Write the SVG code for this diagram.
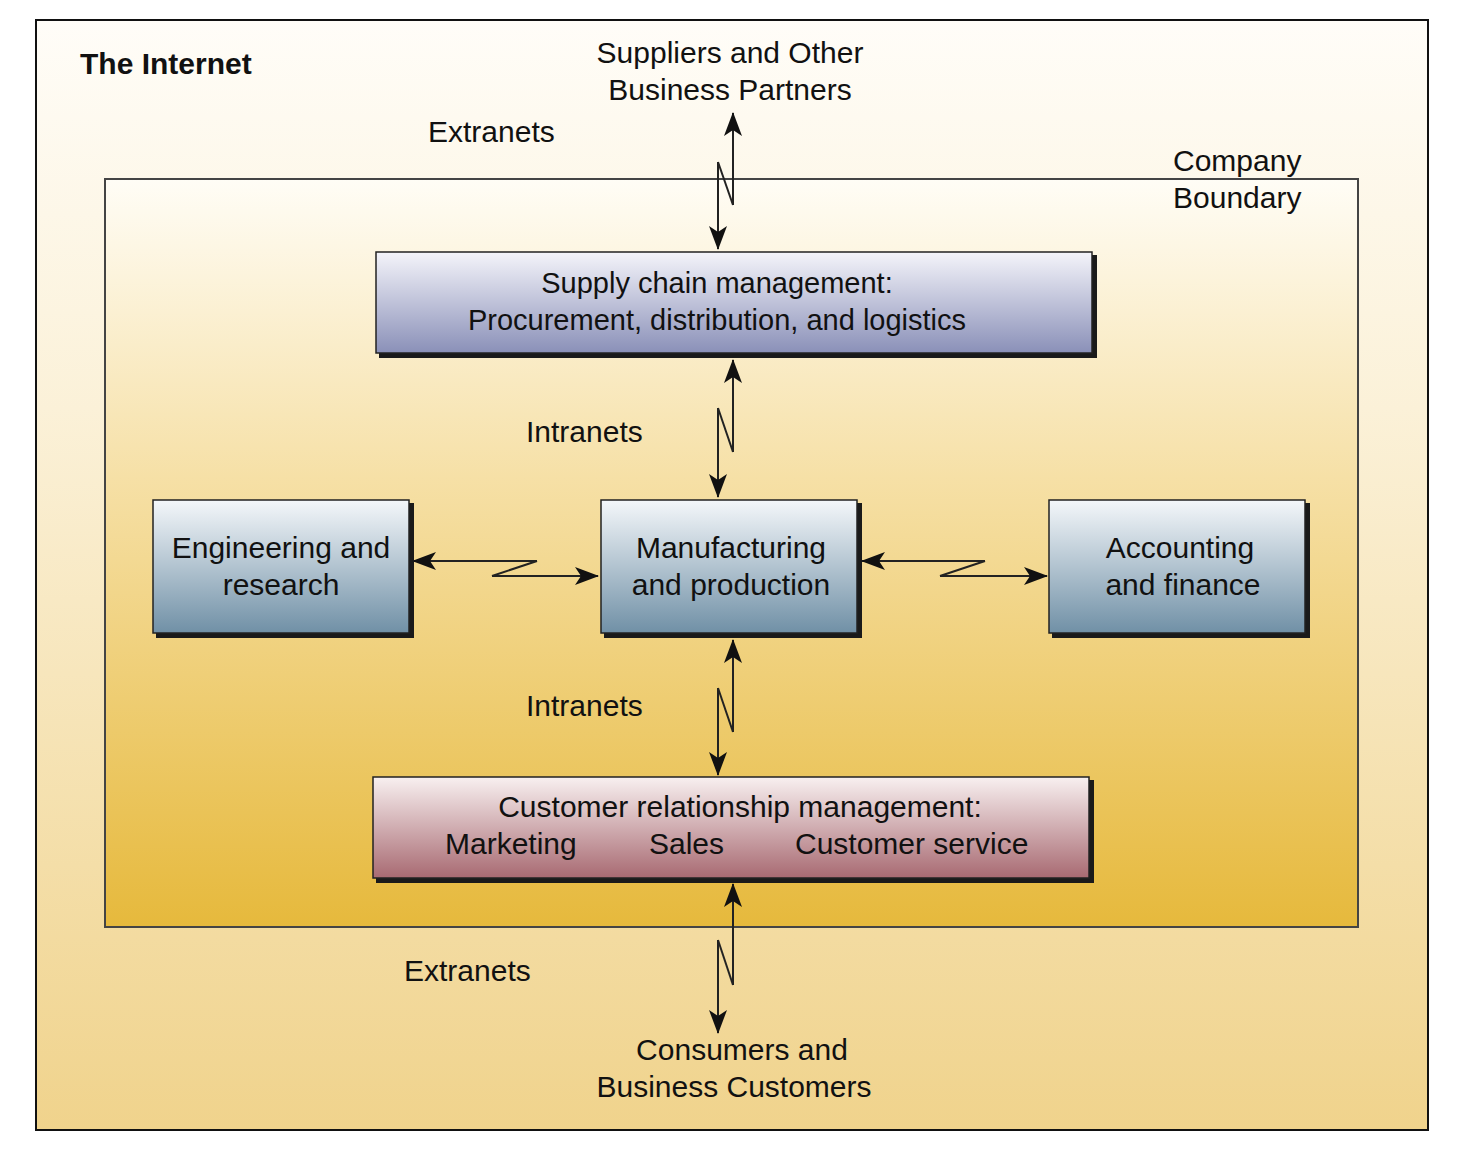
<svg xmlns="http://www.w3.org/2000/svg" width="1464" height="1154" viewBox="0 0 1464 1154">
<defs>
<linearGradient id="gOuter" x1="0" y1="0" x2="0" y2="1">
<stop offset="0" stop-color="#fffdf8"/><stop offset="0.35" stop-color="#fbf1d8"/><stop offset="1" stop-color="#f0d38c"/>
</linearGradient>
<linearGradient id="gInner" x1="0" y1="0" x2="0" y2="1">
<stop offset="0" stop-color="#fffdf6"/><stop offset="0.4" stop-color="#f6e0a6"/><stop offset="1" stop-color="#e6b93c"/>
</linearGradient>
<linearGradient id="gSupply" x1="0" y1="0" x2="0" y2="1">
<stop offset="0" stop-color="#f4f4fa"/><stop offset="1" stop-color="#8a90b8"/>
</linearGradient>
<linearGradient id="gBlue" x1="0" y1="0" x2="0" y2="1">
<stop offset="0" stop-color="#f4f7fa"/><stop offset="1" stop-color="#7090a6"/>
</linearGradient>
<linearGradient id="gPink" x1="0" y1="0" x2="0" y2="1">
<stop offset="0" stop-color="#f8f0f0"/><stop offset="1" stop-color="#a86a72"/>
</linearGradient>
<marker id="ah" viewBox="0 0 24 18" refX="23" refY="9" markerWidth="24" markerHeight="18" markerUnits="userSpaceOnUse" orient="auto">
<path d="M0,0 L24,9 L0,18 L6,9 Z" fill="#111"/>
</marker>
</defs>
<style>
text{font-family:"Liberation Sans",Arial,sans-serif;font-size:30px;fill:#111}
.c{text-anchor:middle}
.s29{font-size:29px}
.box{stroke:#222;stroke-width:1.5}
.sh{fill:#1a1a1a}
.ln{fill:none;stroke:#222;stroke-width:2}
</style>
<rect x="0" y="0" width="1464" height="1154" fill="#ffffff"/>
<g id="internet">
<rect x="36" y="20" width="1392" height="1110" fill="url(#gOuter)" stroke="#111" stroke-width="2"/>
<text x="80" y="74" font-weight="bold">The Internet</text>
</g>
<g id="company">
<rect x="105" y="179" width="1253" height="748" fill="url(#gInner)" stroke="#444" stroke-width="2"/>
<text x="1173" y="171">Company</text>
<text x="1173" y="208">Boundary</text>
</g>
<g id="suppliers">
<text class="c" x="730" y="63">Suppliers and Other</text>
<text class="c" x="730" y="100">Business Partners</text>
</g>
<g id="consumers">
<text class="c" x="742" y="1060">Consumers and</text>
<text class="c" x="734" y="1097">Business Customers</text>
</g>
<g id="supply">
<rect class="sh" x="379" y="255" width="718" height="103"/>
<rect class="box" x="376" y="252" width="716" height="101" fill="url(#gSupply)"/>
<text class="c s29" x="717" y="293">Supply chain management:</text>
<text class="c s29" x="717" y="330">Procurement, distribution, and logistics</text>
</g>
<g id="engineering">
<rect class="sh" x="156" y="503" width="258" height="135"/>
<rect class="box" x="153" y="500" width="256" height="133" fill="url(#gBlue)"/>
<text class="c" x="281" y="558">Engineering and</text>
<text class="c" x="281" y="595">research</text>
</g>
<g id="manufacturing">
<rect class="sh" x="604" y="503" width="258" height="135"/>
<rect class="box" x="601" y="500" width="256" height="133" fill="url(#gBlue)"/>
<text class="c" x="731" y="558">Manufacturing</text>
<text class="c" x="731" y="595">and production</text>
</g>
<g id="accounting">
<rect class="sh" x="1052" y="503" width="258" height="135"/>
<rect class="box" x="1049" y="500" width="256" height="133" fill="url(#gBlue)"/>
<text class="c" x="1180" y="558">Accounting</text>
<text class="c" x="1183" y="595">and finance</text>
</g>
<g id="crm">
<rect class="sh" x="376" y="780" width="718" height="103"/>
<rect class="box" x="373" y="777" width="716" height="101" fill="url(#gPink)"/>
<text class="c" x="740" y="817">Customer relationship management:</text>
<text x="445" y="854">Marketing</text>
<text x="649" y="854">Sales</text>
<text x="795" y="854">Customer service</text>
</g>
<g id="labels">
<text x="428" y="142">Extranets</text>
<text x="526" y="442">Intranets</text>
<text x="526" y="716">Intranets</text>
<text x="404" y="981">Extranets</text>
</g>
<g id="connectors">
<path class="ln" d="M718,162 L718,249" marker-end="url(#ah)"/>
<path class="ln" d="M733,205 L733,113" marker-end="url(#ah)"/>
<path class="ln" d="M718,162 L733,205"/>
<path class="ln" d="M718,408 L718,497" marker-end="url(#ah)"/>
<path class="ln" d="M733,452 L733,360" marker-end="url(#ah)"/>
<path class="ln" d="M718,408 L733,452"/>
<path class="ln" d="M718,688 L718,775" marker-end="url(#ah)"/>
<path class="ln" d="M733,732 L733,640" marker-end="url(#ah)"/>
<path class="ln" d="M718,688 L733,732"/>
<path class="ln" d="M718,940 L718,1033" marker-end="url(#ah)"/>
<path class="ln" d="M733,985 L733,884" marker-end="url(#ah)"/>
<path class="ln" d="M718,940 L733,985"/>
<path class="ln" d="M537,561 L413,561" marker-end="url(#ah)"/>
<path class="ln" d="M492,576 L598,576" marker-end="url(#ah)"/>
<path class="ln" d="M537,561 L492,576"/>
<path class="ln" d="M985,561 L862,561" marker-end="url(#ah)"/>
<path class="ln" d="M940,576 L1047,576" marker-end="url(#ah)"/>
<path class="ln" d="M985,561 L940,576"/>
</g>
</svg>
